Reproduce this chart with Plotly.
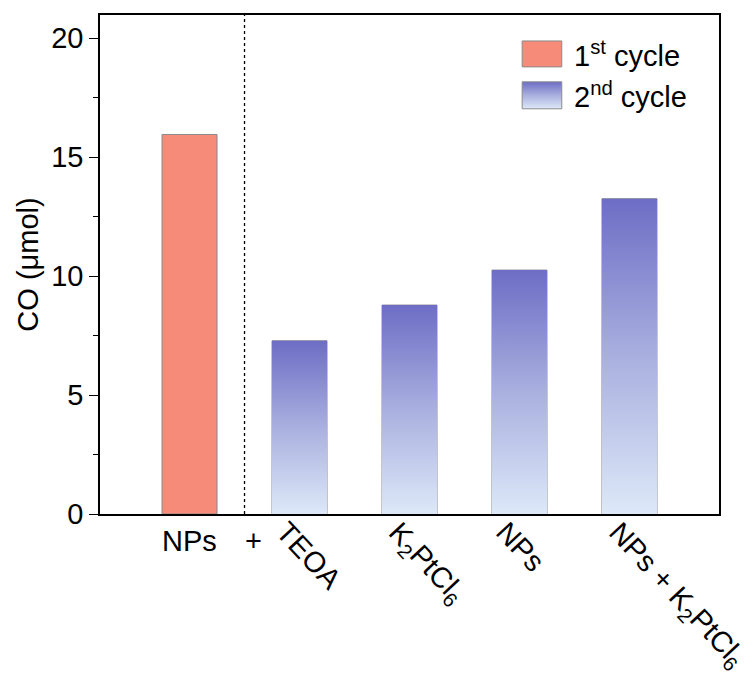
import plotly.graph_objects as go

# CO evolution per condition
first_label = "NPs"
first_value = 15.95
second_labels = ["TEOA", "K<sub>2</sub>PtCl<sub>6</sub>", "NPs", "NPs + K<sub>2</sub>PtCl<sub>6</sub>"]
second_values = [7.28, 8.78, 10.25, 13.25]
legend_names = ["1<sup>st</sup> cycle", "2<sup>nd</sup> cycle"]
y_ticks = [0, 5, 10, 15, 20]

FONT = "Arial, Liberation Sans, sans-serif"
FS = 29
SALMON = "#F58B78"
GRAD = [[0.0, "#DDE8F8"], [0.5, "#A9B0DF"], [1.0, "#6D6DC5"]]
EDGE = "#8A8A8A"
BAR_W = 0.5

fig = go.Figure()

# first-cycle bar
fig.add_trace(go.Bar(x=[0], y=[first_value], width=BAR_W,
                     marker=dict(color=SALMON, line=dict(color=EDGE, width=1)),
                     showlegend=False, hoverinfo="skip"))

# second-cycle bars: gradient fills built from each value, outlined by bars
second_x = list(range(1, len(second_values) + 1))
for xi, v in zip(second_x, second_values):
    x0, x1 = xi - BAR_W / 2, xi + BAR_W / 2
    fig.add_trace(go.Scatter(x=[x0, x1, x1, x0, x0], y=[0, 0, v, v, 0],
                             mode="lines", fill="toself", line=dict(width=0),
                             fillgradient=dict(type="vertical", colorscale=GRAD),
                             showlegend=False, hoverinfo="skip"))
fig.add_trace(go.Bar(x=second_x, y=second_values, width=BAR_W,
                     marker=dict(color="rgba(0,0,0,0)", line=dict(color=EDGE, width=1)),
                     showlegend=False, hoverinfo="skip"))

# legend swatches on an overlay axis spanning the plot area
sw = [(0.682, 0.746, 0.896, 0.948), (0.682, 0.746, 0.812, 0.866)]
a0, a1, b0, b1 = sw[0]
fig.add_trace(go.Scatter(x=[a0, a1, a1, a0, a0], y=[b0, b0, b1, b1, b0], xaxis="x2", yaxis="y2",
                         mode="lines", fill="toself", fillcolor=SALMON,
                         line=dict(color=EDGE, width=1), showlegend=False, hoverinfo="skip"))
a0, a1, b0, b1 = sw[1]
fig.add_trace(go.Scatter(x=[a0, a1, a1, a0, a0], y=[b0, b0, b1, b1, b0], xaxis="x2", yaxis="y2",
                         mode="lines", fill="toself",
                         fillgradient=dict(type="vertical", colorscale=GRAD),
                         line=dict(color=EDGE, width=1), showlegend=False, hoverinfo="skip"))

annotations = []
for (a0, a1, b0, b1), name in zip(sw, legend_names):
    annotations.append(dict(x=a1 + 0.016, y=(b0 + b1) / 2, xref="x2", yref="y2",
                            text=name, showarrow=False, xanchor="left", yanchor="middle",
                            font=dict(family=FONT, size=FS, color="black")))
# horizontal labels under the first bar and the separator
annotations.append(dict(x=0, y=0, xref="x", yref="paper", text=first_label, showarrow=False,
                        xanchor="center", yanchor="top", yshift=-9,
                        font=dict(family=FONT, size=FS, color="black")))
annotations.append(dict(x=0.58, y=0, xref="x", yref="paper", text="+", showarrow=False,
                        xanchor="center", yanchor="top", yshift=-9,
                        font=dict(family=FONT, size=FS, color="black")))
# slanted category labels for the second cycle
for xi, lab in zip(second_x, second_labels):
    annotations.append(dict(x=xi, y=0, xref="x", yref="paper", text=lab, showarrow=False,
                            textangle=47, xanchor="left", yanchor="top",
                            xshift=-32, yshift=1,
                            font=dict(family=FONT, size=FS, color="black")))

fig.update_layout(
    width=753, height=677,
    margin=dict(l=100, r=34, t=15, b=163),
    plot_bgcolor="white", paper_bgcolor="white",
    font=dict(family=FONT, size=FS, color="black"),
    barmode="overlay",
    annotations=annotations,
    shapes=[dict(type="line", x0=0.5, x1=0.5, y0=0, y1=1, xref="x", yref="paper",
                 line=dict(color="black", width=1.3, dash="dot"))],
    xaxis=dict(range=[-0.814, 4.814], showticklabels=False, ticks="",
               showline=True, linecolor="black", linewidth=1.5, mirror=True,
               showgrid=False, zeroline=False),
    yaxis=dict(range=[0, 20.97], tickmode="array", tickvals=y_ticks,
               ticks="outside", ticklen=9, tickwidth=1.3, tickcolor="black",
               minor=dict(dtick=2.5, ticks="outside", ticklen=5, tickwidth=1.3, tickcolor="black"),
               showline=True, linecolor="black", linewidth=1.5, mirror=True,
               showgrid=False, zeroline=False, tickfont=dict(size=FS),
               title=dict(text="CO (μmol)", font=dict(size=FS), standoff=4)),
    xaxis2=dict(range=[0, 1], overlaying="x", visible=False, fixedrange=True),
    yaxis2=dict(range=[0, 1], overlaying="y", visible=False, fixedrange=True),
)

fig.write_html("out.html")
